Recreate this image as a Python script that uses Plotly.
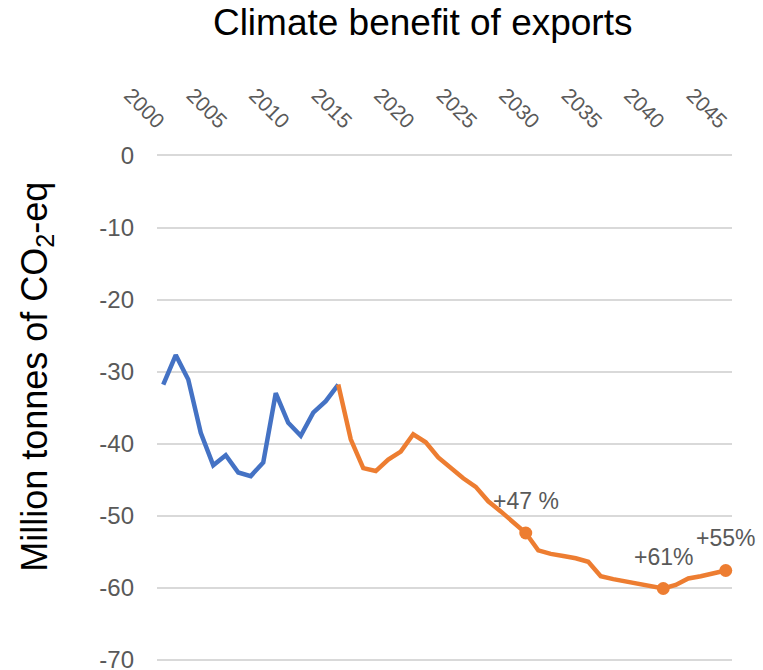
import plotly.graph_objects as go

hist_years = list(range(2000, 2015))
hist_values = [-31.8, -27.7, -31.1, -38.5, -43.0, -41.6, -44.0, -44.5, -42.6,
               -33.0, -37.1, -38.9, -35.7, -34.1, -31.8]

proj_years = list(range(2014, 2046))
proj_values = [-31.8, -39.4, -43.4, -43.8, -42.2, -41.1, -38.7, -39.8, -41.9,
               -43.3, -44.8, -46.0, -48.0, -49.4, -50.8, -52.4, -54.8, -55.3,
               -55.6, -55.9, -56.4, -58.4, -58.8, -59.1, -59.5, -59.8, -60.1,
               -59.6, -58.7, -58.4, -58.0, -57.6]

marker_years = [2029, 2040, 2045]
marker_labels = ["+47 %", "+61%", "+55%"]

x_ticks = list(range(2000, 2050, 5))
y_ticks = [0, -10, -20, -30, -40, -50, -60, -70]

blue = "#4472C4"
orange = "#ED7D31"
grey = "#595959"
font_family = "Liberation Sans"

marker_values = [proj_values[proj_years.index(y)] for y in marker_years]

fig = go.Figure()
fig.add_trace(go.Scatter(x=hist_years, y=hist_values, mode="lines",
                         line=dict(color=blue, width=4.5), showlegend=False))
fig.add_trace(go.Scatter(x=proj_years, y=proj_values, mode="lines",
                         line=dict(color=orange, width=4.5), showlegend=False))
fig.add_trace(go.Scatter(x=marker_years, y=marker_values, mode="markers",
                         marker=dict(color=orange, size=13),
                         showlegend=False, cliponaxis=False))

for yr, val, lab in zip(marker_years, marker_values, marker_labels):
    fig.add_annotation(x=yr, y=val, text=lab, showarrow=False, yshift=32,
                       xanchor="center", yanchor="middle",
                       font=dict(size=23, color=grey, family=font_family))

fig.update_layout(
    width=763, height=670,
    margin=dict(l=157, r=31, t=154, b=8, autoexpand=False),
    plot_bgcolor="white", paper_bgcolor="white",
    title=dict(text="Climate benefit of exports", x=0.554, xanchor="center",
               xref="container", yref="container",
               y=0.967, yanchor="middle",
               font=dict(size=37, color="black", family=font_family)),
    font=dict(family=font_family),
)
fig.update_xaxes(range=[1999.5, 2045.5], side="top", tickvals=x_ticks,
                 ticktext=[str(v) for v in x_ticks], tickangle=45,
                 showgrid=False, zeroline=False, showline=False,
                 tickfont=dict(size=21, color=grey), ticks="",
                 automargin=False, ticklabelstandoff=16)
fig.update_yaxes(range=[-70.3, 0.2], tickvals=y_ticks,
                 ticktext=[str(v) for v in y_ticks], showgrid=True,
                 gridcolor="#d9d9d9", gridwidth=1.5, zeroline=False,
                 showline=False, tickfont=dict(size=24, color=grey), ticks="",
                 ticklabelstandoff=22, automargin=False,
                 ticklabeloverflow="allow")
fig.add_annotation(text="Million tonnes of CO<sub>2</sub>-eq", textangle=-90,
                   xref="paper", yref="paper", x=-0.209, y=0.561,
                   xanchor="center", yanchor="middle", showarrow=False,
                   font=dict(size=36, color="black", family=font_family))

fig.write_html("out.html",
               config={"displayModeBar": False},
               post_script="document.body.style.margin='0px';"
                           "document.body.style.padding='0px';")
